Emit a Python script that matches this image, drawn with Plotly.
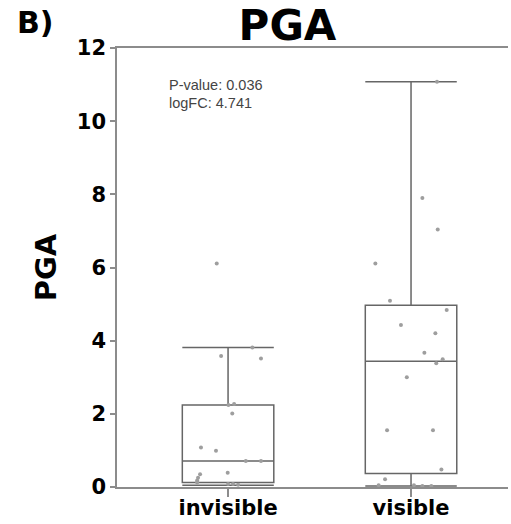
import plotly.graph_objects as go

# ---- data ----
categories = ["invisible", "visible"]

# box summary statistics
q1_vals = [0.12, 0.37]
median_vals = [0.71, 3.44]
q3_vals = [2.24, 4.97]
lower_fence = [0.05, 0.03]
upper_fence = [3.81, 11.08]

# individual samples (values) and their horizontal jitter (fraction of category spacing)
invisible_vals = [6.11, 3.81, 3.58, 3.51, 2.27, 2.24, 2.01, 1.08, 0.99, 0.71,
                  0.71, 0.39, 0.35, 0.25, 0.18, 0.12, 0.08, 0.08, 0.06]
invisible_jitter = [-0.062, 0.133, -0.038, 0.180, 0.033, 0.002, 0.023, -0.148, -0.066, 0.097,
                    0.180, -0.002, -0.153, -0.164, -0.169, -0.169, 0.0, 0.027, 0.055]
visible_vals = [11.08, 7.90, 7.04, 6.11, 5.09, 4.84, 4.43, 4.20, 3.67, 3.49,
                3.38, 3.00, 1.55, 1.55, 0.48, 0.21, 0.05, 0.05, 0.03, 0.03]
visible_jitter = [0.142, 0.062, 0.146, -0.195, -0.115, 0.195, -0.055, 0.133, 0.073, 0.173,
                  0.138, -0.023, -0.131, 0.120, 0.166, -0.142, -0.177, 0.016, 0.062, 0.111]

y_ticks = [0, 2, 4, 6, 8, 10, 12]
stats_lines = ["P-value: 0.036", "logFC: 4.741"]

FONT = "DejaVu Sans"
idx = list(range(len(categories)))

fig = go.Figure()
fig.add_trace(go.Box(
    x=idx, q1=q1_vals, median=median_vals, q3=q3_vals,
    lowerfence=lower_fence, upperfence=upper_fence,
    width=0.5, whiskerwidth=1, boxpoints=False,
    line=dict(color="#666666", width=1.5),
    fillcolor="rgba(255,255,255,0)", showlegend=False, hoverinfo="skip",
))

for i, (vals, jit) in enumerate([(invisible_vals, invisible_jitter), (visible_vals, visible_jitter)]):
    fig.add_trace(go.Scatter(
        x=[i + j for j in jit], y=vals, mode="markers",
        marker=dict(color="#9e9e9e", size=4),
        showlegend=False, hoverinfo="skip",
    ))

fig.update_layout(
    width=511, height=524,
    margin=dict(l=117, r=3, t=48, b=37, autoexpand=False),
    plot_bgcolor="white", paper_bgcolor="white",
    font=dict(family=FONT, color="black"),
    title=dict(text="PGA", font=dict(family=FONT, size=42, weight="bold", color="black"),
               xref="container", x=287.5 / 511, xanchor="center",
               yref="container", y=1 - 25 / 524, yanchor="middle"),
)
fig.update_xaxes(
    range=[-0.607, 1.53], tickvals=idx, ticktext=categories,
    showline=True, linecolor="#8c8c8c", linewidth=1.5, mirror=True,
    ticks="outside", ticklen=8, tickcolor="#8c8c8c", tickwidth=1.5,
    ticklabelstandoff=-7,
    tickfont=dict(family=FONT, size=21, weight="bold", color="black"),
    showgrid=False, zeroline=False, automargin=False,
)
fig.update_yaxes(
    range=[0, 12], tickvals=y_ticks,
    showline=True, linecolor="#8c8c8c", linewidth=1.5,
    ticks="outside", ticklen=5, tickcolor="#8c8c8c", tickwidth=1.5,
    tickfont=dict(family=FONT, size=21, weight="bold", color="black"),
    title=dict(text="PGA", font=dict(family=FONT, size=29, weight="bold", color="black"), standoff=12),
    showgrid=False, zeroline=False, automargin=False,
)

fig.add_annotation(text="B)", xref="paper", yref="paper", x=(35 - 117) / 391, y=(487 - 23) / 439,
                   xanchor="center", yanchor="middle", showarrow=False,
                   font=dict(family=FONT, size=30, weight="bold", color="black"))
for k, (txt, ypx) in enumerate(zip(stats_lines, [85, 103])):
    fig.add_annotation(text=txt, xref="paper", yref="paper", x=(167 - 117) / 391, y=(487 - ypx) / 439,
                       xanchor="left", yanchor="middle", showarrow=False,
                       font=dict(family="Liberation Sans", size=14.5, color="#444444"))

fig.write_html("out.html")
